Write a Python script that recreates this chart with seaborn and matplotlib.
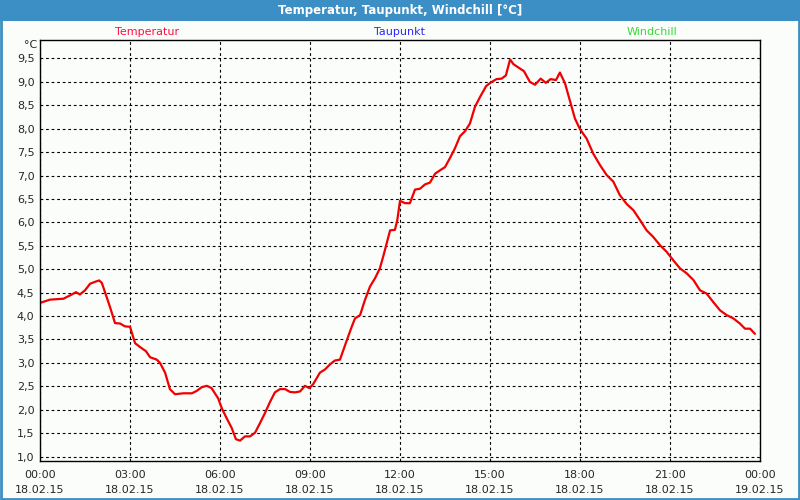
import matplotlib
matplotlib.use("Agg")
import matplotlib.pyplot as plt
from matplotlib.patches import Rectangle
import seaborn as sns
import pandas as pd

# Stunden seit 18.02.15 00:00 und Temperatur in °C
stunden = [0.0, 0.33, 0.78, 1.0, 1.2, 1.33, 1.5, 1.67, 1.83, 1.97, 2.06, 2.17,
           2.33, 2.5, 2.67, 2.83, 3.0, 3.17, 3.33, 3.53, 3.67, 3.89, 4.0, 4.17,
           4.33, 4.5, 4.78, 5.06, 5.22, 5.39, 5.56, 5.72, 5.94, 6.06, 6.22, 6.39,
           6.53, 6.67, 6.83, 7.0, 7.17, 7.33, 7.5, 7.67, 7.83, 8.0, 8.17, 8.33,
           8.5, 8.67, 8.83, 8.98, 9.11, 9.33, 9.5, 9.67, 9.83, 10.0, 10.11, 10.22,
           10.39, 10.5, 10.67, 10.83, 11.0, 11.17, 11.33, 11.44, 11.56, 11.67,
           11.83, 11.91, 12.0, 12.17, 12.33, 12.5, 12.67, 12.83, 13.0, 13.17,
           13.33, 13.5, 13.67, 13.83, 14.0, 14.17, 14.33, 14.5, 14.67, 14.87,
           15.03, 15.22, 15.39, 15.53, 15.67, 15.78, 15.94, 16.13, 16.33, 16.5,
           16.69, 16.86, 17.02, 17.2, 17.33, 17.5, 17.67, 17.83, 18.0, 18.22,
           18.44, 18.67, 18.89, 19.11, 19.33, 19.56, 19.78, 20.0, 20.22, 20.44,
           20.67, 20.89, 21.11, 21.33, 21.56, 21.78, 22.0, 22.22, 22.44, 22.67,
           22.89, 23.11, 23.33, 23.5, 23.67, 23.83]
temperatur = [4.28, 4.35, 4.37, 4.44, 4.51, 4.46, 4.55, 4.69, 4.73, 4.76, 4.71, 4.5,
              4.2, 3.85, 3.84, 3.78, 3.77, 3.42, 3.34, 3.25, 3.12, 3.07, 3.0, 2.79,
              2.44, 2.33, 2.35, 2.35, 2.40, 2.48, 2.51, 2.46, 2.24, 2.03, 1.82, 1.61,
              1.37, 1.34, 1.43, 1.43, 1.51, 1.71, 1.93, 2.17, 2.37, 2.44, 2.44, 2.38,
              2.37, 2.39, 2.51, 2.46, 2.55, 2.79, 2.86, 2.97, 3.05, 3.07, 3.27, 3.47,
              3.77, 3.95, 4.02, 4.34, 4.63, 4.81, 5.02, 5.27, 5.56, 5.83,
              5.84, 6.05, 6.46, 6.41, 6.41, 6.70, 6.72, 6.81, 6.85, 7.04,
              7.11, 7.18, 7.38, 7.58, 7.84, 7.95, 8.11, 8.47, 8.68, 8.91,
              8.99, 9.06, 9.07, 9.14, 9.48, 9.38, 9.31, 9.23, 9.0, 8.94,
              9.07, 8.98, 9.06, 9.04, 9.2, 8.97, 8.58, 8.22, 7.99, 7.79,
              7.47, 7.22, 7.01, 6.87, 6.58, 6.39, 6.26, 6.05, 5.83, 5.69,
              5.51, 5.37, 5.19, 5.02, 4.91, 4.77, 4.55, 4.48, 4.30, 4.12,
              4.02, 3.95, 3.84, 3.73, 3.73, 3.62]

x_ticks = [0, 3, 6, 9, 12, 15, 18, 21, 24]
x_labels = ["00:00\n18.02.15", "03:00\n18.02.15", "06:00\n18.02.15",
            "09:00\n18.02.15", "12:00\n18.02.15", "15:00\n18.02.15",
            "18:00\n18.02.15", "21:00\n18.02.15", "00:00\n19.02.15"]
y_ticks = [1.0, 1.5, 2.0, 2.5, 3.0, 3.5, 4.0, 4.5, 5.0, 5.5, 6.0, 6.5, 7.0,
           7.5, 8.0, 8.5, 9.0, 9.5]
serien = ["Temperatur", "Taupunkt", "Windchill"]
serien_farben = ["#ff1040", "#2a2aff", "#33dd33"]

df = pd.DataFrame({"stunde": stunden, "temperatur": temperatur})

sns.set_style("white")
plt.rcParams["font.family"] = ["DejaVu Sans"]

hintergrund = "#fbfdfb"
blau = "#3c8fc4"

fig = plt.figure(figsize=(8, 5), dpi=100, facecolor=hintergrund)
ax = fig.add_axes([40 / 800, 1 - 460.5 / 500, 720 / 800, 420.5 / 500])
ax.set_facecolor(hintergrund)

sns.lineplot(data=df, x="stunde", y="temperatur", ax=ax, color="#f00000",
             linewidth=1.6, estimator=None)

ax.set_xlim(0, 24)
ax.set_ylim(0.915, 9.895)
ax.set_xticks(x_ticks)
ax.set_xticklabels(x_labels, fontsize=8, linespacing=1.6)
ax.set_xticks(range(0, 25), minor=True)
ax.set_yticks(y_ticks)
ax.set_yticklabels([f"{v:.1f}".replace(".", ",") for v in y_ticks], fontsize=8)
ax.tick_params(axis="x", which="both", direction="out", length=4, width=0.8,
               color="black", pad=3)
ax.tick_params(axis="y", length=0, pad=4)
ax.set_xlabel("")
ax.set_ylabel("")

ax.grid(True, which="major", color="black", linestyle=(0, (2.5, 2.5)), linewidth=0.8)
for s in ax.spines.values():
    s.set_color("black")
    s.set_linewidth(1.0)
    s.set_visible(True)

# Einheit oben an der y-Achse
fig.text(37 / 800, 1 - 45 / 500, "°C", fontsize=8, ha="right", va="center")

# Serienbeschriftungen
for name, farbe, xpos in zip(serien, serien_farben, [147, 400, 652]):
    fig.text(xpos / 800, 1 - 32 / 500, name, color=farbe, fontsize=8,
             ha="center", va="center")

# Titelleiste und Rahmen
fig.patches.append(Rectangle((0, 1 - 21 / 500), 1, 21 / 500, transform=fig.transFigure,
                             facecolor=blau, edgecolor="none", zorder=0))
fig.patches.append(Rectangle((0.001, 0.002), 0.998, 0.996, transform=fig.transFigure,
                             facecolor="none", edgecolor=blau, linewidth=2.0, zorder=1))
fig.text(0.5, 1 - 10.5 / 500, "Temperatur, Taupunkt, Windchill [°C]", color="white",
         fontsize=8.5, fontweight="bold", ha="center", va="center")

fig.savefig("out.png", dpi=100, facecolor=hintergrund)
